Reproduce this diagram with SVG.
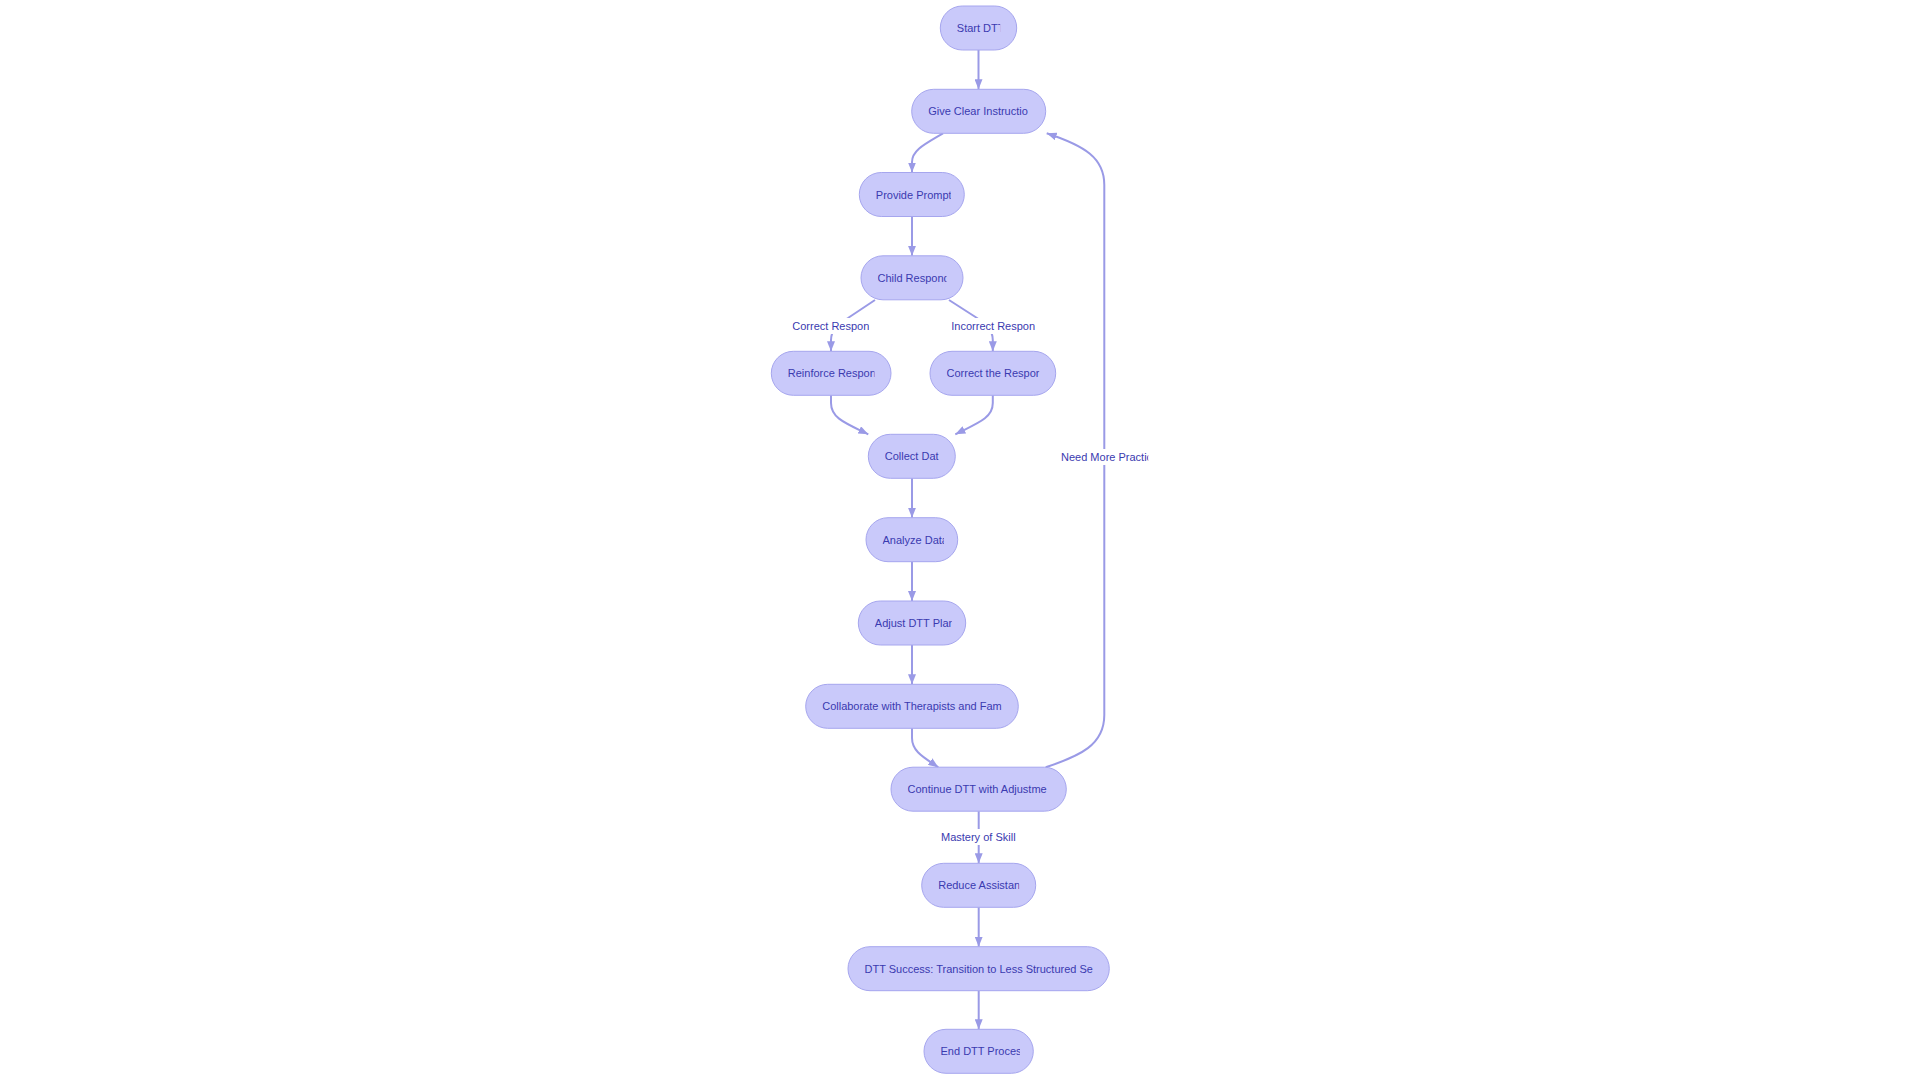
<svg xmlns="http://www.w3.org/2000/svg" width="1920" height="1080" viewBox="0 0 1920 1080">
<style>
.node rect{fill:#C9C9FA;stroke:#A6A6EE;stroke-width:1}
.node text,.elabel text{font-family:"Liberation Sans",Arial,sans-serif;font-size:11px;fill:#3A3AB0}
.edge{fill:none;stroke:#9A9AE6;stroke-width:2;marker-end:url(#arrow)}
.elabel rect{fill:#FFFFFF}
</style>
<defs>
<marker id="arrow" viewBox="0 0 10 8" refX="10" refY="4" markerWidth="10" markerHeight="8" markerUnits="userSpaceOnUse" orient="auto">
<path d="M0,0 L10,4 L0,8 z" fill="#9A9AE6"/>
</marker>
<clipPath id="c1"><rect x="956.8" y="6" width="43.4" height="44"/></clipPath>
<clipPath id="c2"><rect x="928.2" y="89" width="101" height="44"/></clipPath>
<clipPath id="c3"><rect x="875.8" y="172" width="75" height="44"/></clipPath>
<clipPath id="c4"><rect x="877.5" y="255" width="69" height="44"/></clipPath>
<clipPath id="c5"><rect x="787.8" y="351" width="86.7" height="44"/></clipPath>
<clipPath id="c6"><rect x="946.5" y="351" width="92.7" height="44"/></clipPath>
<clipPath id="c7"><rect x="884.8" y="434" width="54" height="44"/></clipPath>
<clipPath id="c8"><rect x="882.5" y="517" width="61.5" height="44"/></clipPath>
<clipPath id="c9"><rect x="874.8" y="601" width="77" height="44"/></clipPath>
<clipPath id="c10"><rect x="822.2" y="684" width="179.6" height="44"/></clipPath>
<clipPath id="c11"><rect x="907.5" y="767" width="142.3" height="44"/></clipPath>
<clipPath id="c12"><rect x="938.2" y="863" width="81" height="44"/></clipPath>
<clipPath id="c13"><rect x="864.5" y="946" width="228.3" height="44"/></clipPath>
<clipPath id="c14"><rect x="940.5" y="1029" width="79.5" height="44"/></clipPath>
<clipPath id="l1"><rect x="792.3" y="318" width="77" height="16"/></clipPath>
<clipPath id="l2"><rect x="951.3" y="318" width="83.7" height="16"/></clipPath>
<clipPath id="l3"><rect x="1061" y="449" width="87.3" height="16"/></clipPath>
<clipPath id="l4"><rect x="941" y="829" width="75.7" height="16"/></clipPath>
</defs>

<g id="connectors">
<path class="edge" d="M978.5,50 L978.5,89.3"/>
<path class="edge" d="M943,133.3 C925,144 912,150 912,162 L912,172.5"/>
<path class="edge" d="M912,216.5 L912,255.8"/>
<path class="edge" d="M875,300 L848,318 C838,324 831,330 831,340 L831,351.3"/>
<path class="edge" d="M949,300 L977,318 C986,324 992.8,330 992.8,340 L992.8,351.3"/>
<path class="edge" d="M831,395.3 L831,403 C831,418 845,423 868.3,434.3"/>
<path class="edge" d="M992.8,395.3 L992.8,403 C992.8,418 978,423 955.3,434.3"/>
<path class="edge" d="M912,478.3 L912,517.7"/>
<path class="edge" d="M912,561.7 L912,601"/>
<path class="edge" d="M912,645 L912,684.3"/>
<path class="edge" d="M912,728.3 L912,738 C912,752 925,758 938.3,767.3"/>
<path class="edge" d="M1045.7,767.3 C1080,756 1104.3,745 1104.3,715 L1104.3,185 C1104.3,158 1085,146 1046.7,133.3"/>
<path class="edge" d="M978.7,811.2 L978.7,863.3"/>
<path class="edge" d="M978.7,907.3 L978.7,946.7"/>
<path class="edge" d="M978.7,990.7 L978.7,1029.3"/>
</g>

<g id="edge-labels">
<g class="elabel" id="label-correct"><rect x="792.3" y="318" width="77" height="16"/><text x="792.3" y="330" clip-path="url(#l1)">Correct Respon</text></g>
<g class="elabel" id="label-incorrect"><rect x="951.3" y="318" width="83.7" height="16"/><text x="951.3" y="330" clip-path="url(#l2)">Incorrect Respon</text></g>
<g class="elabel" id="label-practice"><rect x="1061" y="449" width="87.3" height="16"/><text x="1061" y="461" clip-path="url(#l3)">Need More Practic</text></g>
<g class="elabel" id="label-mastery"><rect x="941" y="829" width="75.7" height="16"/><text x="941" y="841" clip-path="url(#l4)">Mastery of Skill</text></g>
</g>

<g class="node" id="start"><rect x="940.3" y="6" width="76.4" height="44" rx="22"/><text x="956.8" y="32" clip-path="url(#c1)">Start DTT</text></g>
<g class="node" id="give-instructions"><rect x="911.7" y="89.3" width="134" height="44" rx="22"/><text x="928.2" y="115.3" clip-path="url(#c2)">Give Clear Instructio</text></g>
<g class="node" id="provide-prompt"><rect x="859.3" y="172.5" width="105" height="44" rx="22"/><text x="875.8" y="198.5" clip-path="url(#c3)">Provide Prompt</text></g>
<g class="node" id="child-responds"><rect x="861" y="255.8" width="102" height="44" rx="22"/><text x="877.5" y="281.8" clip-path="url(#c4)">Child Respond</text></g>
<g class="node" id="reinforce"><rect x="771.3" y="351.3" width="119.7" height="44" rx="22"/><text x="787.8" y="377.3" clip-path="url(#c5)">Reinforce Respon</text></g>
<g class="node" id="correct"><rect x="930" y="351.3" width="125.7" height="44" rx="22"/><text x="946.5" y="377.3" clip-path="url(#c6)">Correct the Respon</text></g>
<g class="node" id="collect-data"><rect x="868.3" y="434.3" width="87" height="44" rx="22"/><text x="884.8" y="460.3" clip-path="url(#c7)">Collect Dat</text></g>
<g class="node" id="analyze-data"><rect x="866" y="517.7" width="91.7" height="44" rx="22"/><text x="882.5" y="543.7" clip-path="url(#c8)">Analyze Data</text></g>
<g class="node" id="adjust-plan"><rect x="858.3" y="601" width="107.4" height="44" rx="22"/><text x="874.8" y="627" clip-path="url(#c9)">Adjust DTT Plan</text></g>
<g class="node" id="collaborate"><rect x="805.7" y="684.3" width="212.6" height="44" rx="22"/><text x="822.2" y="710.3" clip-path="url(#c10)">Collaborate with Therapists and Fam</text></g>
<g class="node" id="continue"><rect x="891" y="767.2" width="175.3" height="44" rx="22"/><text x="907.5" y="793.2" clip-path="url(#c11)">Continue DTT with Adjustme</text></g>
<g class="node" id="reduce-assistance"><rect x="921.7" y="863.3" width="114" height="44" rx="22"/><text x="938.2" y="889.3" clip-path="url(#c12)">Reduce Assistan</text></g>
<g class="node" id="success"><rect x="848" y="946.7" width="261.3" height="44" rx="22"/><text x="864.5" y="972.7" clip-path="url(#c13)">DTT Success: Transition to Less Structured Se</text></g>
<g class="node" id="end"><rect x="924" y="1029.3" width="109.3" height="44" rx="22"/><text x="940.5" y="1055.3" clip-path="url(#c14)">End DTT Proces</text></g>
</svg>
